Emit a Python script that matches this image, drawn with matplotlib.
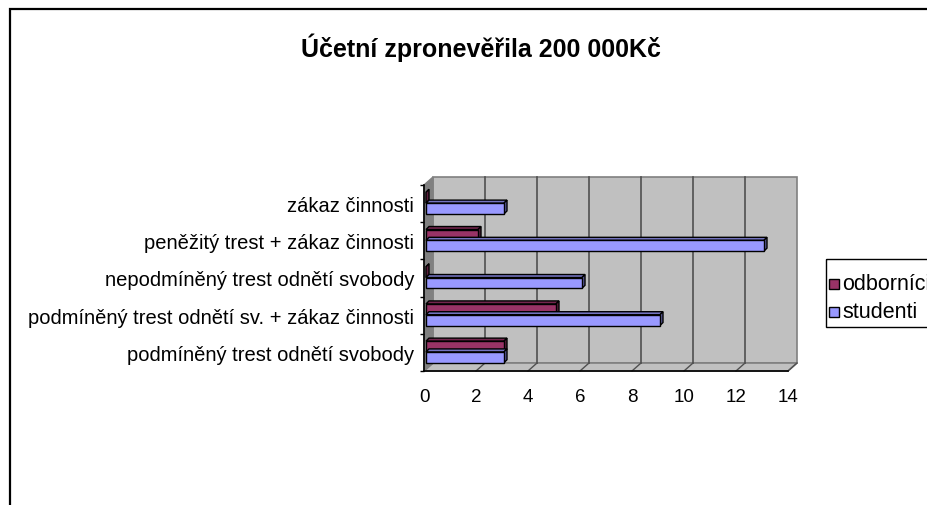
import matplotlib
matplotlib.use("Agg")
import matplotlib.pyplot as plt
from matplotlib.patches import Polygon, Rectangle
import numpy as np

plt.rcParams['font.family'] = ['Liberation Sans', 'DejaVu Sans']

title = "Účetní zpronevěřila 200 000Kč"
categories = [
    "podmíněný trest odnětí svobody",
    "podmíněný trest odnětí sv. + zákaz činnosti",
    "nepodmíněný trest odnětí svobody",
    "peněžitý trest + zákaz činnosti",
    "zákaz činnosti",
]
odbornici = [3, 5, 0, 2, 0]
studenti = [3, 9, 6, 13, 3]
series_names = ["odborníci", "studenti"]
xticks = [0, 2, 4, 6, 8, 10, 12, 14]

col_odb = "#993366"
col_stu = "#9999FF"

W, H = 927, 506
fig = plt.figure(figsize=(W / 100, H / 100), dpi=100)

# chart frame
fig.add_artist(Rectangle((10 / W, -0.1), 1.2, 1 - 10 / H + 0.1, transform=fig.transFigure,
                         fill=False, lw=1.6, ec="black"))

ax = fig.add_axes([424 / W, 1 - 372 / H, (788 - 424) / W, (372 - 186) / H])
ax.set_xlim(0, 14)
ax.set_ylim(0, 5)
for s in ax.spines.values():
    s.set_visible(False)
ax.patch.set_visible(False)

DX, DY = 9, 8

def pt(x, y, dx=0, dy=0):
    return ax.transData.transform((x, y)) + np.array([dx, dy])

def disp_poly(points, **kw):
    inv = ax.transData.inverted()
    p = Polygon(inv.transform(np.array(points)), closed=True, transform=ax.transData,
                clip_on=False, **kw)
    ax.add_patch(p)
    return p

# back wall
disp_poly([pt(0, 0, DX, DY), pt(14, 0, DX, DY), pt(14, 5, DX, DY), pt(0, 5, DX, DY)],
          fc="#C0C0C0", ec="#808080", lw=1.2, zorder=1)
# floor
disp_poly([pt(0, 0), pt(14, 0), pt(14, 0, DX, DY), pt(0, 0, DX, DY)],
          fc="#C0C0C0", ec="#808080", lw=1.2, zorder=1)
# left wall
disp_poly([pt(0, 0), pt(0, 5), pt(0, 5, DX, DY), pt(0, 0, DX, DY)],
          fc="#808080", ec="#808080", lw=1.0, zorder=1)

inv = ax.transData.inverted()
for xv in xticks[1:-1]:
    a = inv.transform([pt(xv, 0, DX, DY), pt(xv, 5, DX, DY)])
    ax.plot(a[:, 0], a[:, 1], color="#505050", lw=1.2, zorder=2, clip_on=False)
for xv in xticks[1:]:
    a = inv.transform([pt(xv, 0), pt(xv, 0, DX, DY)])
    ax.plot(a[:, 0], a[:, 1], color="#505050", lw=1.0, zorder=2, clip_on=False)

# front axes lines
ax.plot([0, 0], [0, 5], color="black", lw=1.2, zorder=6, clip_on=False)
ax.plot([0, 14], [0, 0], color="black", lw=1.2, zorder=6, clip_on=False)

# bars
BH = 0.29
FX, FY = 2, -1   # front face offset (px)
BDX, BDY = 3, 3  # bar depth (px)

def darker(c, f):
    c = np.array(matplotlib.colors.to_rgb(c))
    return tuple(c * f)

def bar3d(y0, val, color, z):
    p0 = pt(0, y0, FX, FY)
    p1 = pt(val, y0, FX, FY)
    p2 = pt(val, y0 + BH, FX, FY)
    p3 = pt(0, y0 + BH, FX, FY)
    d = np.array([BDX, BDY])
    disp_poly([p3, p2, p2 + d, p3 + d], fc=darker(color, 0.75), ec="black", lw=1.0, zorder=z)
    disp_poly([p1, p2, p2 + d, p1 + d], fc=darker(color, 0.6), ec="black", lw=1.0, zorder=z)
    if val > 0:
        disp_poly([p0, p1, p2, p3], fc=color, ec="black", lw=1.0, zorder=z)

for i in range(len(categories)):
    bar3d(i + 0.25 + BH, odbornici[i], col_odb, 3 + i * 0.01)
for i in range(len(categories)):
    bar3d(i + 0.25, studenti[i], col_stu, 4 + i * 0.01)

# ticks
ax.set_xticks(xticks)
ax.set_xticklabels([str(x) for x in xticks], fontsize=13.5)
ax.set_yticks([i + 0.5 for i in range(len(categories))])
ax.set_yticklabels(categories, fontsize=14.5)
ax.tick_params(axis="x", length=0, pad=12)
ax.tick_params(axis="y", length=0, pad=7)
ax.set_yticks(range(6), minor=True)
ax.tick_params(axis="y", which="minor", length=3, width=1, color="black", direction="out")
ax.set_xticks(xticks, minor=True)
ax.tick_params(axis="x", which="minor", length=3, width=1, color="black", direction="out")

fig.text(481 / W, 1 - 48 / H, title, ha="center", va="center", fontsize=18, fontweight="bold")

# legend
leg_ax = fig.add_axes([0, 0, 1, 1])
leg_ax.set_xlim(0, W)
leg_ax.set_ylim(H, 0)
leg_ax.axis("off")
leg_ax.add_patch(Rectangle((826, 260), 140, 68, fill=False, ec="black", lw=1.0))
for k, (nm, c) in enumerate(zip(series_names, [col_odb, col_stu])):
    yc = 285 + k * 28
    leg_ax.add_patch(Rectangle((829.5, yc - 5), 10, 10, fc=c, ec="black", lw=1.0))
    leg_ax.text(842, yc, nm, va="center", ha="left", fontsize=15.5)

fig.savefig("out.png", dpi=100)
